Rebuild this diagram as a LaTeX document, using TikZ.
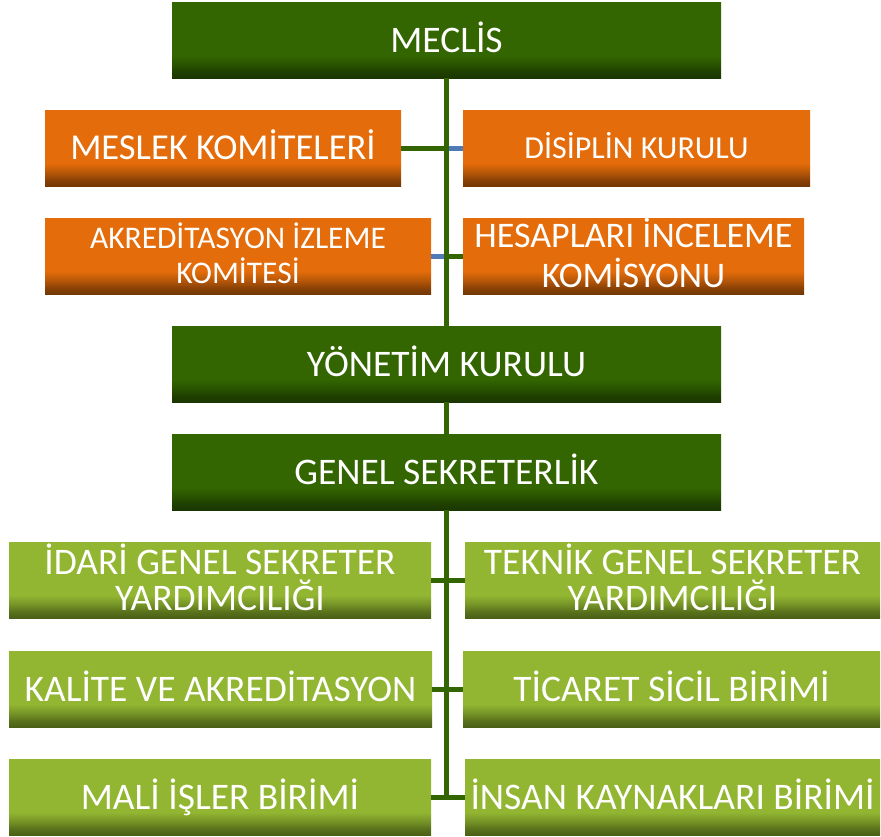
\documentclass[tikz,border=0pt]{standalone}
\usepackage{fontspec}
\setmainfont{Carlito}
\definecolor{dg}{RGB}{51,102,0}
\definecolor{dgD}{RGB}{26,54,0}
\definecolor{og}{RGB}{228,108,10}
\definecolor{ogD}{RGB}{115,55,5}
\definecolor{lg}{RGB}{146,182,50}
\definecolor{lgD}{RGB}{74,96,22}
\definecolor{blu}{RGB}{79,122,180}
\pgfdeclareverticalshading{dgsh}{100bp}{color(0bp)=(dgD); color(25bp)=(dgD); color(29bp)=(dgD!80!dg); color(34bp)=(dgD!40!dg); color(40bp)=(dg); color(100bp)=(dg)}
\pgfdeclareverticalshading{ogsh}{100bp}{color(0bp)=(ogD); color(25bp)=(ogD); color(29bp)=(ogD!80!og); color(34bp)=(ogD!40!og); color(40bp)=(og); color(100bp)=(og)}
\pgfdeclareverticalshading{lgsh}{100bp}{color(0bp)=(lgD); color(25bp)=(lgD); color(29bp)=(lgD!80!lg); color(34bp)=(lgD!40!lg); color(40bp)=(lg); color(100bp)=(lg)}
\tikzset{
  box/.style={rectangle, inner sep=0pt, minimum height=76pt, text=white, align=center, text depth=0pt},
  dgbox/.style={box, shade, shading=dgsh, minimum width=549pt, font=\fontsize{37.5}{40}\selectfont, text height=24.2pt},
  ogbox/.style={box, shade, shading=ogsh},
  lgbox/.style={box, shade, shading=lgsh, font=\fontsize{37.5}{36}\selectfont},
  oneline/.style={text height=24.2pt},
  twoline/.style={text height=60.2pt},
  gline/.style={draw=dg, line width=5pt},
  bline/.style={draw=blu, line width=5pt}
}
\begin{document}
\begin{tikzpicture}[x=1pt,y=-1pt]
\useasboundingbox (0,0) rectangle (881,836);
% top level
\node[dgbox] (meclis) at (446.5,40) {MECLİS};
\node[ogbox, minimum width=356pt, font=\fontsize{36.5}{40}\selectfont, text height=23.5pt] (meslek) at (223,148) {MESLEK KOMİTELERİ};
\node[ogbox, minimum width=347pt, font=\fontsize{32}{36}\selectfont, text height=20.6pt] (disiplin) at (636.5,148) {DİSİPLİN KURULU};
\node[ogbox, minimum width=386pt, font=\fontsize{31.5}{35}\selectfont, text height=55.3pt] (akred) at (238,256) {AKREDİTASYON İZLEME\\KOMİTESİ};
\node[ogbox, minimum width=341pt, font=\fontsize{36}{40}\selectfont, text height=63.2pt] (hesap) at (633.5,256) {HESAPLARI İNCELEME\\KOMİSYONU};
\node[dgbox] (yonetim) at (446.5,364) {YÖNETİM KURULU};
\node[dgbox] (genel) at (446.5,472) {GENEL SEKRETERLİK};
% lower level
\node[lgbox, twoline, minimum width=422pt] (idari) at (220,580) {İDARİ GENEL SEKRETER\\YARDIMCILIĞI};
\node[lgbox, twoline, minimum width=415pt] (teknik) at (672.5,580) {TEKNİK GENEL SEKRETER\\YARDIMCILIĞI};
\node[lgbox, oneline, minimum width=423pt] (kalite) at (220.5,689) {KALİTE VE AKREDİTASYON};
\node[lgbox, oneline, minimum width=417pt] (ticaret) at (671.5,689) {TİCARET SİCİL BİRİMİ};
\node[lgbox, oneline, minimum width=422pt] (mali) at (220,797) {MALİ İŞLER BİRİMİ};
\node[lgbox, oneline, minimum width=415pt] (insan) at (672.5,797) {İNSAN KAYNAKLARI BİRİMİ};
% spine
\draw[gline] (meclis.south) -- (yonetim.north);
\draw[gline] (yonetim.south) -- (genel.north);
\draw[gline] (genel.south) -- (genel.south |- mali.east);
% side connectors
\draw[gline] (meslek.east) -- (meslek.east -| meclis.south);
\draw[bline] (disiplin.west) -- ([xshift=2.5pt]disiplin.west -| meclis.south);
\draw[bline] (akred.east) -- ([xshift=-2.5pt]akred.east -| meclis.south);
\draw[gline] (hesap.west) -- (hesap.west -| meclis.south);
\draw[gline] (idari.east) -- (teknik.west);
\draw[gline] (kalite.east) -- (ticaret.west);
\draw[gline] (mali.east) -- (insan.west);
\end{tikzpicture}
\end{document}
